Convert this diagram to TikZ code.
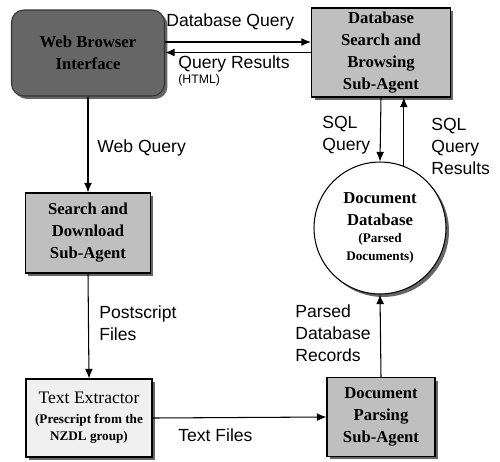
\documentclass[tikz,border=0pt]{standalone}
\usepackage{fontspec}
\setmainfont{Liberation Serif}
\setsansfont{Liberation Sans}
\usetikzlibrary{arrows.meta, positioning, shadows}
\newcommand\subtxt{\fontsize{7.5}{9}\selectfont}

\begin{document}
\begin{tikzpicture}[x=0.02cm, y=-0.02cm, font=\sffamily\fontsize{10}{12.5}\selectfont,
  boxshadow/.style={drop shadow={shadow xshift=1.7pt, shadow yshift=-1.7pt, fill=black!60, opacity=1}},
  browser/.style={draw=black!80, line width=0.6pt, fill=black!60, rounded corners=7pt, align=center, boxshadow,
    font=\rmfamily\bfseries\fontsize{9.5}{12.5}\selectfont},
  agent/.style={draw=black, line width=0.6pt, fill=black!25, align=center, inner sep=0.5pt, boxshadow,
    font=\rmfamily\bfseries\fontsize{9.5}{12.5}\selectfont},
  extractor/.style={agent, fill=black!6, font=\rmfamily\fontsize{10}{12}\selectfont},
  store/.style={circle, draw=black, line width=0.6pt, fill=white, align=center, inner sep=0pt, boxshadow,
    font=\rmfamily\bfseries\fontsize{9.5}{12.5}\selectfont},
  flow/.style={draw=black, line width=0.6pt, -{Latex[length=5.5pt, width=4.5pt]}},
  lbl/.style={anchor=west, inner sep=0pt, align=left},
]
\useasboundingbox (0,0) rectangle (500,461);
% ---------- components ----------
\node[browser, minimum width=3.06cm, minimum height=1.72cm] (web) at (88,53) {Web Browser\\Interface};
\node[agent, minimum width=2.78cm, minimum height=1.78cm] (dbs) at (381,52.5) {Database\\Search and\\Browsing\\Sub-Agent};
\node[agent, minimum width=2.5cm, minimum height=1.6cm] (search) at (88,233) {Search and\\Download\\Sub-Agent};
\node[extractor, minimum width=2.52cm, minimum height=1.56cm] (extract) at (89,418)
  {Text Extractor\\[-1pt]{\bfseries\subtxt (Prescript from the}\\[-2pt]{\bfseries\subtxt NZDL group)}};
\node[agent, minimum width=2.16cm, minimum height=1.58cm] (parse) at (381,417) {Document\\Parsing\\Sub-Agent};
\node[store, minimum size=2.64cm] (db) at (380,228)
  {Document\\Database\\[-3pt]{\subtxt (Parsed}\\[-2.5pt]{\subtxt Documents)}};
% ---------- connectors ----------
\draw[flow] ([yshift=0.22cm]web.east) -- ([yshift=0.22cm]web.east -| dbs.west);   % database query
\draw[flow] (dbs.west) -- (dbs.west -| web.east);                                 % query results
\draw[flow] (web.south) -- (search.north);
\draw[flow] (search.south) -- (extract.north);
\draw[flow] (extract.east) -- (parse.west);
\draw[flow] (parse.north) -- (db.south);
\draw[flow] (dbs.south) -- (db.north);                                            % SQL query
\draw[flow] (db.69) -- (db.69 |- dbs.south);                                       % SQL results
% ---------- labels ----------
\node[lbl] (lq) at (166,22) {Database Query};
\node[lbl] (lr) at (178,64) {Query Results};
\node[lbl, font=\sffamily\fontsize{7}{8}\selectfont] (lh) at (178,80) {(HTML)};
\node[lbl] (lw) at (97,148) {Web Query};
\node[lbl] (lp) at (99,323) {Postscript\\Files};
\node[lbl] (ls) at (322,135) {SQL\\Query};
\node[lbl] (lsr) at (431,146) {SQL\\Query\\Results};
\node[lbl] (lpr) at (295,333) {Parsed\\Database\\Records};
\node[lbl] (lt) at (178,435) {Text Files};
\end{tikzpicture}
\end{document}
